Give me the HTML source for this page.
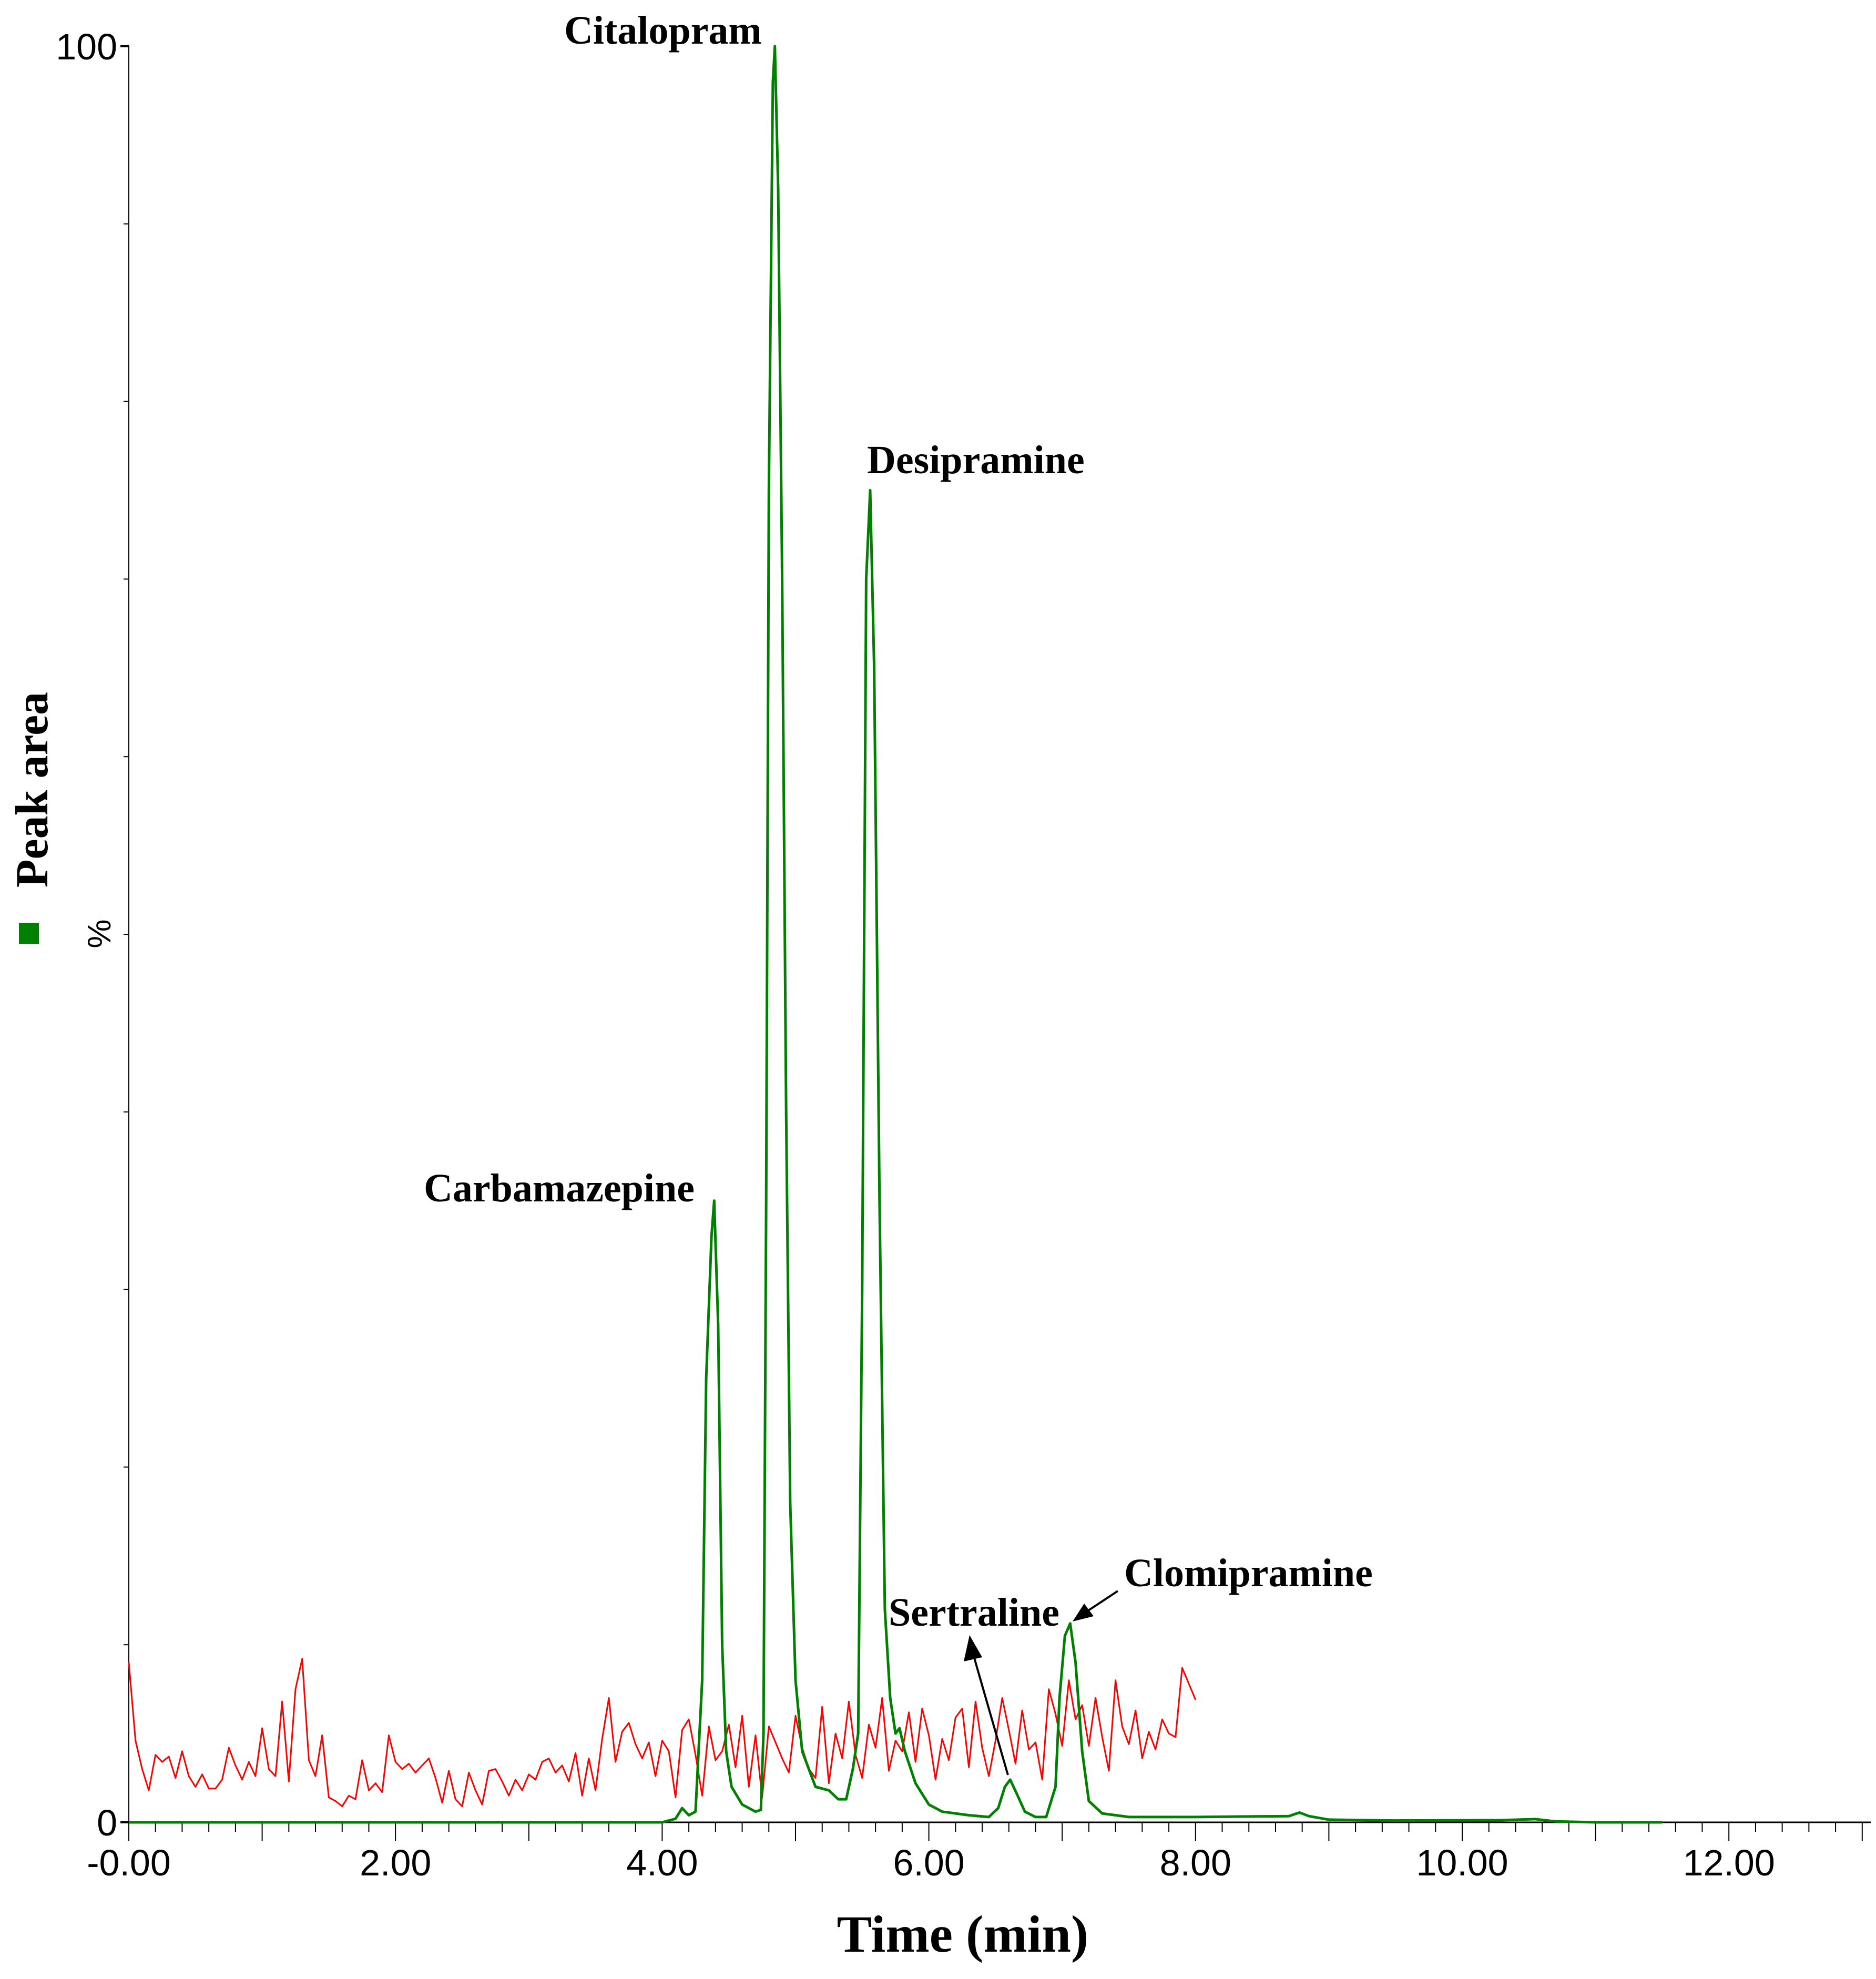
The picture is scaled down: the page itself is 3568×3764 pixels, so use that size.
<!DOCTYPE html>
<html><head><meta charset="utf-8"><style>
html,body{margin:0;padding:0;background:#fff;}
svg{display:block;}
.lab{font-family:"Liberation Serif",serif;font-weight:bold;font-size:76px;fill:#000;}
.tick{font-family:"Liberation Sans",sans-serif;font-size:70px;fill:#000;}
</style></head><body>
<svg id="chart" width="3568" height="3764" viewBox="0 0 3568 3764" xmlns="http://www.w3.org/2000/svg">
<g id="axes"></g>
<g id="series"></g>
<g id="annot">
<text class="lab" x="1073" y="83">Citalopram</text>
<text class="lab" x="1649" y="900">Desipramine</text>
<text class="lab" x="806" y="2285">Carbamazepine</text>
<text class="lab" x="1690" y="3092">Sertraline</text>
<text class="lab" x="2138" y="3017">Clomipramine</text>
<g>
<line x1="1917" y1="3376" x2="1852" y2="3150" stroke="#000" stroke-width="4"/>
<polygon points="1844,3110 1833,3160 1868,3152" fill="#000"/>
</g>
<g>
<line x1="2126" y1="3026" x2="2070" y2="3063" stroke="#000" stroke-width="4"/>
<polygon points="2040,3084 2062,3050 2080,3074" fill="#000"/>
</g>
</g>
<text x="90" y="1502" transform="rotate(-90 90 1502)" text-anchor="middle" font-family="Liberation Serif, serif" font-weight="bold" font-size="88">Peak area</text>
<rect x="36" y="1755" width="38" height="40" fill="#008000"/>
<text x="210" y="1776" transform="rotate(-90 210 1776)" text-anchor="middle" font-family="Liberation Sans, sans-serif" font-size="62">%</text>
<text x="1831" y="3712" text-anchor="middle" font-family="Liberation Serif, serif" font-weight="bold" font-size="100">Time (min)</text>
</svg>
<script>
const greenTimes=[0,4.0,4.1,4.15,4.2,4.25,4.3,4.33,4.37,4.39,4.42,4.45,4.48,4.52,4.6,4.7,4.74,4.76,4.78,4.8,4.83,4.845,4.87,4.9,4.93,4.96,5.0,5.05,5.15,5.25,5.32,5.38,5.43,5.47,5.50,5.53,5.56,5.59,5.63,5.67,5.71,5.75,5.78,5.82,5.9,6.0,6.1,6.3,6.45,6.52,6.57,6.61,6.66,6.72,6.8,6.88,6.95,6.98,7.02,7.06,7.1,7.15,7.2,7.3,7.5,8.0,8.7,8.78,8.85,9.0,9.5,10.3,10.55,10.7,11.0,11.5];
const greenValues=[0,0,0.2,0.8,0.4,0.6,8,25,33,35,28,10,4,2,1.0,0.6,0.7,5,35,75,98,100,92,70,40,18,8,4,2.0,1.8,1.3,1.3,3,5,30,70,75,65,35,12,7,5,5.3,4,2.2,1.0,0.6,0.4,0.3,0.8,2.0,2.4,1.6,0.6,0.3,0.3,2,7,10.5,11.2,9,4,1.2,0.5,0.3,0.3,0.35,0.55,0.35,0.15,0.1,0.12,0.18,0.05,0,0];
const redStart=0.0, redStep=0.05;
const redValues=[9.0,4.6,3.0,1.8,3.8,3.4,3.7,2.5,4.0,2.6,2.0,2.7,1.9,1.9,2.4,4.2,3.2,2.4,3.4,2.6,5.3,3.0,2.6,6.8,2.3,7.5,9.2,3.5,2.6,4.9,1.4,
1.2,0.9,1.5,1.3,3.5,1.8,2.2,1.7,4.9,3.4,3.0,3.3,2.8,3.2,3.6,2.5,1.1,2.9,1.3,0.9,2.8,1.8,1.0,2.9,3.0,2.3,1.5,2.4,1.8,2.7,
2.4,3.4,3.6,2.8,3.2,2.3,3.9,1.5,3.6,1.8,4.7,7.0,3.4,5.1,5.6,4.4,3.6,4.5,2.6,4.6,4.0,1.4,5.2,5.8,3.8,1.5,5.4,3.5,4.0,5.5,
3.1,6.0,2.0,4.9,1.4,5.4,4.5,3.6,2.8,6.0,4.2,3.0,2.5,6.5,2.2,5.0,3.6,6.8,3.8,2.5,5.5,4.2,7.0,2.9,4.6,4.0,6.2,3.4,6.4,4.9,
2.4,4.7,3.5,5.9,6.4,3.1,6.8,4.2,2.6,4.6,7.0,5.2,3.3,6.3,4.1,4.5,2.4,7.5,6.1,4.3,8.0,5.8,6.6,4.3,7.0,4.8,2.9,8.0,5.4,4.4,6.3,3.6,5.1,4.1,5.8,5.0,4.8,8.7,7.8,6.9];
const xTickLabels=["-0.00","2.00","4.00","6.00","8.00","10.00","12.00"];
const xTickValues=[0,2,4,6,8,10,12];
const yTickLabels=["0","100"];
const yTickValues=[0,100];

const X0=245, PXMIN=253.6, Y0=3466, Y100=88;
const xs=t=>X0+t*PXMIN;
const ys=v=>Y0-(Y0-Y100)*v/100;
const NS="http://www.w3.org/2000/svg";
const axes=document.getElementById('axes'), series=document.getElementById('series');
function mk(tag,attrs,parent){const e=document.createElementNS(NS,tag);for(const k in attrs)e.setAttribute(k,attrs[k]);parent.appendChild(e);return e;}

let l=mk('line',{x1:X0,y1:Y100,x2:X0,y2:Y0,stroke:'#000','stroke-width':2},axes);


l=mk('line',{x1:X0,y1:Y0,x2:3558,y2:Y0,stroke:'#000','stroke-width':3},axes);


for(let v=0;v<=100;v+=10){
  const big=(v===0||v===100);
  const t=mk('line',{x1:X0-(big?16:10),y1:ys(v),x2:X0,y2:ys(v),stroke:'#000','stroke-width':big?4:2},axes);
  
  
}
yTickValues.forEach((v,i)=>{
  const t=mk('text',{x:X0-22,y:ys(v)+25,'text-anchor':'end',class:'tick'},axes);
  t.textContent=yTickLabels[i];
  
  
});
for(let i=0;i<=65;i++){
  const t0=i*0.2; const x=xs(t0); if(x>3558)break;
  const major=(i%5===0);
  const t=mk('line',{x1:x,y1:Y0,x2:x,y2:Y0+(major?36:18),stroke:'#000','stroke-width':2},axes);
  
  
}
xTickValues.forEach((v,i)=>{
  const t=mk('text',{x:xs(v),y:3567,'text-anchor':'middle',class:'tick'},axes);
  t.textContent=xTickLabels[i];
  
  
});

let rd='';
redValues.forEach((v,i)=>{rd+=(i?'L':'M')+xs(redStart+i*redStep).toFixed(1)+','+ys(v).toFixed(1);});
const red=mk('path',{d:rd,fill:'none',stroke:'#ff0000','stroke-width':3,'stroke-linejoin':'round'},series);



let gd='';
greenTimes.forEach((t,i)=>{gd+=(i?'L':'M')+xs(t).toFixed(1)+','+ys(greenValues[i]).toFixed(1);});
const green=mk('path',{d:gd,fill:'none',stroke:'#008000','stroke-width':5,'stroke-linejoin':'round'},series);


</script>
</body></html>
